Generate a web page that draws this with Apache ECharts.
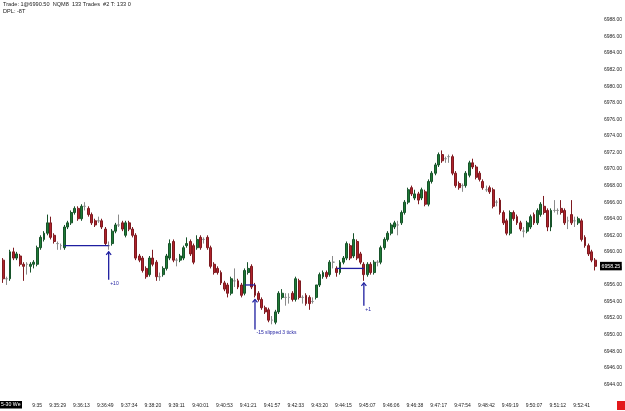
<!DOCTYPE html>
<html>
<head>
<meta charset="utf-8">
<script src="https://cdn.jsdelivr.net/npm/echarts@6/dist/echarts.min.js"></script>
<style>
html, body { margin: 0; padding: 0; background: #fff; }
#main { width: 625px; height: 411px; }
</style>
</head>
<body>
<div id="main"></div>
<script>
// 133 tick bars, NQM8
var opens = [6959.0,6956.75,6956.75,6960.0,6959.25,6959.5,6958.5,6958.5,6958.25,6958.5,
  6958.5,6960.5,6961.5,6962.25,6963.5,6962.0,6961.0,6960.75,6960.5,6963.0,
  6963.5,6964.75,6965.25,6964.0,6965.5,6965.25,6964.5,6963.75,6963.75,6963.75,
  6962.75,6960.75,6961.0,6962.5,6963.25,6963.5,6962.0,6963.5,6962.75,6962.0,
  6959.5,6959.25,6958.0,6957.25,6959.25,6958.75,6957.0,6957.25,6958.0,6959.25,
  6961.25,6959.0,6959.0,6959.25,6960.75,6961.25,6960.75,6960.5,6961.75,6961.5,
  6961.75,6960.5,6958.5,6958.0,6957.5,6956.25,6956.0,6955.0,6956.5,6956.5,
  6956.0,6955.0,6957.5,6958.25,6956.0,6955.0,6954.25,6953.25,6953.0,6951.75,
  6951.5,6952.75,6954.5,6954.5,6954.5,6955.0,6954.25,6956.5,6954.5,6954.75,
  6954.5,6954.0,6954.5,6956.0,6957.0,6957.5,6957.25,6958.75,6958.0,6957.5,
  6958.75,6959.25,6960.75,6959.5,6961.25,6959.75,6958.5,6957.25,6958.5,6957.5,
  6958.75,6958.75,6960.5,6961.5,6962.25,6963.0,6963.25,6963.5,6964.75,6966.0,
  6967.75,6966.5,6967.0,6966.5,6967.25,6965.75,6968.5,6969.5,6970.5,6971.75,
  6971.25,6971.5,6971.5,6969.5,6968.25,6968.0,6968.0,6969.25,6970.75,6970.25,
  6969.5,6968.5,6967.5,6967.75,6967.5,6966.0,6966.25,6964.75,6963.75,6962.25,
  6964.75,6964.25,6963.5,6962.5,6962.5,6963.0,6964.5,6963.5,6964.5,6965.5,
  6965.0,6963.0,6965.0,6965.0,6965.25,6965.0,6963.75,6964.5,6963.75,6963.5,
  6963.75,6961.75,6960.75,6960.0,6959.0];
var closes = [6956.75,6956.75,6960.0,6959.25,6959.75,6958.5,6958.25,6958.5,6958.5,6958.75,
  6960.5,6961.75,6962.25,6963.5,6961.75,6961.25,6961.0,6960.75,6963.0,6963.5,
  6964.75,6965.25,6964.0,6965.5,6965.5,6964.5,6963.5,6963.25,6963.75,6963.0,
  6961.0,6960.75,6962.5,6963.25,6963.25,6962.75,6963.5,6962.75,6962.0,6959.25,
  6959.0,6957.75,6957.0,6959.25,6958.5,6957.0,6957.0,6958.0,6959.5,6961.0,
  6959.0,6959.0,6959.5,6960.5,6961.0,6959.75,6958.75,6961.5,6960.5,6961.5,
  6960.5,6958.25,6957.5,6957.5,6956.25,6955.5,6955.0,6956.75,6956.5,6955.75,
  6954.75,6957.75,6958.0,6955.75,6954.75,6954.25,6953.25,6952.75,6951.75,6951.75,
  6952.75,6955.0,6955.0,6954.5,6954.5,6954.25,6956.75,6954.5,6954.5,6953.75,
  6953.75,6954.0,6956.0,6957.25,6957.5,6957.0,6958.75,6958.75,6957.5,6958.75,
  6959.25,6961.0,6959.25,6961.5,6959.25,6958.75,6957.25,6958.5,6957.5,6958.75,
  6958.75,6960.5,6961.5,6962.25,6963.25,6963.5,6963.25,6964.75,6966.0,6967.5,
  6967.0,6967.0,6966.25,6967.5,6965.75,6968.5,6969.5,6970.5,6971.75,6971.0,
  6971.25,6971.5,6969.5,6968.0,6967.75,6968.0,6969.5,6970.75,6970.25,6969.0,
  6968.75,6967.75,6967.5,6967.25,6965.5,6966.0,6964.75,6963.5,6962.25,6964.75,
  6964.0,6963.5,6962.75,6962.5,6963.5,6964.25,6963.5,6965.0,6965.75,6964.75,
  6963.0,6965.0,6965.0,6965.0,6964.75,6963.5,6963.75,6963.5,6963.75,6964.0,
  6961.5,6960.75,6959.75,6959.0,6958.25];
var lows = [6956.25,6956.0,6956.5,6959.0,6959.0,6958.25,6956.5,6957.25,6957.5,6958.0,
  6958.25,6960.25,6961.25,6962.0,6961.5,6961.0,6960.25,6960.25,6960.25,6962.75,
  6963.25,6964.5,6963.75,6963.75,6965.0,6964.25,6963.25,6963.0,6963.5,6962.75,
  6960.75,6960.25,6960.75,6962.25,6963.0,6962.5,6961.75,6962.5,6961.75,6959.0,
  6958.75,6957.5,6956.75,6957.0,6958.25,6956.5,6956.5,6957.0,6957.75,6959.0,
  6958.75,6958.25,6958.75,6959.0,6960.5,6959.5,6958.5,6960.25,6960.25,6961.0,
  6960.25,6958.0,6957.25,6957.25,6956.0,6955.25,6954.5,6954.75,6955.75,6955.5,
  6954.5,6954.75,6957.25,6955.5,6954.5,6954.0,6953.0,6952.5,6951.5,6951.25,
  6951.25,6952.5,6954.25,6953.5,6953.75,6954.0,6954.0,6954.25,6953.75,6953.5,
  6953.0,6953.75,6954.25,6955.75,6956.75,6956.75,6957.0,6958.0,6957.0,6957.25,
  6958.5,6959.0,6959.0,6959.25,6959.0,6958.5,6956.5,6957.0,6957.25,6957.25,
  6958.25,6958.5,6960.25,6961.25,6962.0,6962.75,6962.0,6963.25,6964.5,6965.75,
  6966.75,6966.25,6965.75,6966.25,6965.5,6965.5,6968.25,6969.25,6970.25,6970.75,
  6970.75,6970.75,6969.25,6967.75,6967.5,6967.25,6967.75,6969.0,6970.0,6968.75,
  6968.5,6967.5,6967.25,6967.0,6965.25,6965.5,6964.5,6963.25,6962.0,6962.0,
  6963.75,6963.25,6962.5,6961.75,6962.25,6962.75,6963.25,6963.25,6964.25,6964.5,
  6962.5,6962.5,6964.75,6964.5,6964.5,6963.25,6962.75,6963.25,6963.0,6963.25,
  6961.25,6960.5,6959.5,6958.75,6957.75];
var highs = [6959.25,6957.0,6960.25,6960.5,6960.0,6959.75,6958.75,6958.75,6958.75,6959.0,
  6960.75,6962.0,6962.5,6964.5,6964.25,6962.25,6961.25,6961.0,6963.25,6963.75,
  6965.0,6965.5,6965.5,6965.75,6966.0,6965.5,6964.75,6964.0,6964.25,6964.0,
  6963.0,6961.25,6962.75,6963.5,6964.5,6963.75,6963.75,6963.75,6963.0,6962.25,
  6959.75,6959.5,6958.25,6959.5,6960.25,6959.0,6957.5,6958.25,6959.75,6961.5,
  6961.5,6959.25,6959.75,6960.75,6961.75,6961.5,6961.0,6962.0,6962.0,6961.75,
  6962.0,6960.75,6958.75,6958.25,6957.75,6956.5,6956.25,6957.0,6958.0,6956.75,
  6956.25,6958.0,6958.75,6958.5,6956.25,6955.25,6954.5,6953.5,6953.25,6952.25,
  6953.0,6955.25,6955.5,6955.0,6955.0,6955.25,6957.0,6956.75,6954.75,6955.0,
  6954.75,6954.5,6956.0,6957.5,6957.75,6957.75,6959.0,6959.5,6958.25,6959.0,
  6959.5,6961.25,6961.0,6962.25,6961.5,6960.0,6958.75,6958.75,6958.75,6959.0,
  6959.0,6960.75,6961.75,6962.5,6963.5,6963.75,6963.75,6965.0,6966.25,6967.75,
  6968.0,6967.5,6967.25,6967.75,6967.5,6968.75,6969.75,6970.75,6972.0,6972.25,
  6971.5,6971.75,6971.75,6969.75,6968.5,6968.25,6969.75,6971.0,6971.25,6970.5,
  6969.75,6968.75,6968.0,6968.0,6967.75,6966.25,6966.5,6965.0,6964.0,6965.0,
  6965.0,6964.5,6963.75,6963.0,6963.75,6964.5,6964.75,6965.25,6966.0,6966.75,
  6965.25,6965.25,6966.25,6965.25,6966.25,6965.25,6964.25,6966.25,6964.25,6964.25,
  6964.0,6962.0,6961.0,6960.25,6959.25];

// time labels under the bars
var timeLabels = ['9:35','9:35:29','9:36:13','9:36:49','9:37:34','9:38:20','9:39:11','9:40:01',
  '9:40:53','9:41:21','9:41:57','9:42:33','9:43:20','9:44:15','9:45:07','9:46:06',
  '9:46:38','9:47:17','9:47:54','9:48:42','9:49:19','9:50:07','9:51:12','9:52:41'];
var timeLabelBars = [10,16,23,30,37,44,51,58,65,72,79,86,93,100,107,114,121,128,135,142,149,156,163,170];

// trades: entry bar, exit bar, price, text
var tradeEntryBar = [18, 71, 98];
var tradeExitBar = [31, 74, 106];
var tradePrice = [6960.75, 6956.0, 6958.0];
var tradeText = ['+10', '-15 slipped 3 ticks', '+1'];

var arrowLen = [28, 30, 23];
var tradeBlue = '#1e1ea0';
var axisFont = 'Liberation Sans, Arial, sans-serif';

var cats = [];
var ohlc = [];
for (var i = 0; i < opens.length; i++) {
    cats.push('b' + i);
    ohlc.push([opens[i], closes[i], lows[i], highs[i]]);
}
var labelAt = {};
for (var k = 0; k < timeLabelBars.length; k++) {
    labelAt[timeLabelBars[k]] = timeLabels[k];
}
var lastClose = closes[closes.length - 1];

var chart = echarts.init(document.getElementById('main'));

var option = {
    backgroundColor: '#fff',
    animation: false,
    grid: {
        left: 1.5,
        right: 27.3,
        top: 3.44,
        bottom: 10.1
    },
    xAxis: {
        type: 'category',
        data: cats,
        boundaryGap: true,
        axisLine: {show: false},
        axisTick: {show: false},
        splitLine: {show: false},
        axisLabel: {
            interval: function (index) {
                return labelAt[index] !== undefined;
            },
            formatter: function (value, index) {
                return labelAt[index] || '';
            },
            fontSize: 5,
            fontFamily: axisFont,
            color: '#222',
            margin: 2.5
        }
    },
    yAxis: {
        type: 'value',
        position: 'right',
        min: 6942,
        max: 6990,
        interval: 2,
        axisLine: {show: false},
        axisTick: {show: false},
        splitLine: {show: false},
        axisLabel: {
            showMaxLabel: false,
            showMinLabel: false,
            formatter: function (v) {
                return v.toFixed(2);
            },
            fontSize: 5,
            fontFamily: axisFont,
            color: '#222',
            margin: 7
        }
    },
    series: [
        {
            type: 'candlestick',
            data: ohlc,
            barWidth: 2.4,
            itemStyle: {
                color: '#1f7b35',
                color0: '#b0232b',
                borderColor: '#17532a',
                borderColor0: '#7e1a20',
                borderColorDoji: '#8a8a8a',
                borderWidth: 1
            }
        },
        {
            type: 'custom',
            z: 5,
            clip: false,
            data: tradeExitBar.map(function (b, i) { return [b, tradePrice[i]]; }),
            encode: {x: 0, y: 1},
            renderItem: function (params, api) {
                var i = params.dataIndex;
                var a = api.coord([tradeEntryBar[i], tradePrice[i]]);
                var b = api.coord([tradeExitBar[i], tradePrice[i]]);
                var lowPt = api.coord([tradeExitBar[i], lows[tradeExitBar[i]]]);
                var x = lowPt[0];
                var y0 = lowPt[1] + 2;
                var y1 = y0 + arrowLen[i];
                return {
                    type: 'group',
                    children: [
                        {type: 'line', shape: {x1: a[0], y1: a[1], x2: b[0], y2: b[1]},
                            style: {stroke: tradeBlue, lineWidth: 1.3}},
                        {type: 'line', shape: {x1: x, y1: y0, x2: x, y2: y1},
                            style: {stroke: tradeBlue, lineWidth: 1.3}},
                        {type: 'polyline', shape: {points: [[x - 2.5, y0 + 3], [x, y0], [x + 2.5, y0 + 3]]},
                            style: {stroke: tradeBlue, lineWidth: 1.2, fill: 'none'}},
                        {type: 'text', x: x + 1.5, y: y1 + 1,
                            style: {text: tradeText[i], fill: tradeBlue, fontSize: 5,
                                fontFamily: axisFont, verticalAlign: 'top', align: 'left'}}
                    ]
                };
            }
        }
    ],
    graphic: [
        {type: 'text', left: 3, top: 1.5,
            style: {text: 'Trade: 1@6990.50  NQM8  133 Trades  #2 T: 133 0', fill: '#222',
                fontSize: 5.6, fontFamily: axisFont}},
        {type: 'text', left: 3, top: 8.5,
            style: {text: 'DPL: -8T', fill: '#222', fontSize: 5.6, fontFamily: axisFont}},
        {type: 'text', left: 0, top: 401,
            style: {text: '5-30 We', fill: '#fff', backgroundColor: '#000', padding: [1.5, 1.5, 1, 1],
                fontSize: 5.2, fontFamily: axisFont}},
        {type: 'rect', left: 617, top: 401, shape: {width: 8, height: 9}, style: {fill: '#e3191c'}}
    ]
};

chart.setOption(option);

// last price box on the price scale
var py = chart.convertToPixel({yAxisIndex: 0}, lastClose);
chart.setOption({
    graphic: [
        {type: 'text', id: 'lastPrice', left: 600, top: py - 4.5, z: 10,
            style: {text: lastClose.toFixed(2), fill: '#fff', backgroundColor: '#000',
                padding: [2, 1.5, 1.5, 1.5], fontSize: 5.2, fontFamily: axisFont}}
    ]
});
</script>
</body>
</html>
